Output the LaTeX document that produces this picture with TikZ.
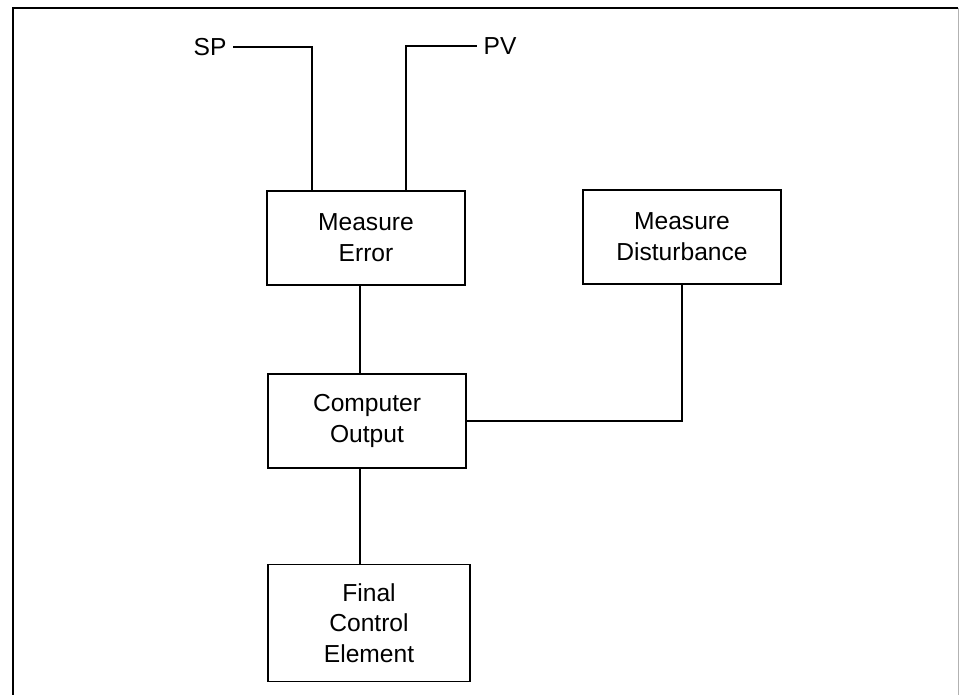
\documentclass[tikz,border=0pt]{standalone}
\usepackage{fontspec}
\setmainfont{Liberation Sans}
\usetikzlibrary{positioning}

\begin{document}
\begin{tikzpicture}[x=0.02cm,y=-0.02cm,line width=1pt,
  blk/.style={draw,align=center,font=\fontsize{14}{17.5}\selectfont,minimum width=3.96cm,minimum height=1.88cm,inner sep=0pt},
  lbl/.style={font=\fontsize{14}{17.5}\selectfont}]
\useasboundingbox (0,0) rectangle (961,695);
\draw (13,695) -- (13,8) -- (958,8);
\draw[gray!60,line width=0.5pt] (958,8) -- (958,695);
\node[blk] (me) at (366,238) {Measure\\Error};
\node[blk] (md) at (682,237) {Measure\\Disturbance};
\node[blk] (co) at (367,421) {Computer\\Output};
\node[blk,minimum width=4.04cm,minimum height=2.34cm] (fce) at (369,623) {Final\\Control\\Element};
\node[lbl] (sp) at (210,47) {SP};
\node[lbl] (pv) at (500,46) {PV};
\draw (sp.east) -| ([xshift=-1.08cm]me.north);
\draw (pv.west) -| ([xshift=0.8cm]me.north);
\draw ([xshift=-0.12cm]me.south) -- ([xshift=-0.12cm]me.south |- co.north);
\draw (md.south) |- (co.east);
\draw ([xshift=-0.14cm]co.south) -- ([xshift=-0.14cm]co.south |- fce.north);
\end{tikzpicture}
\end{document}
